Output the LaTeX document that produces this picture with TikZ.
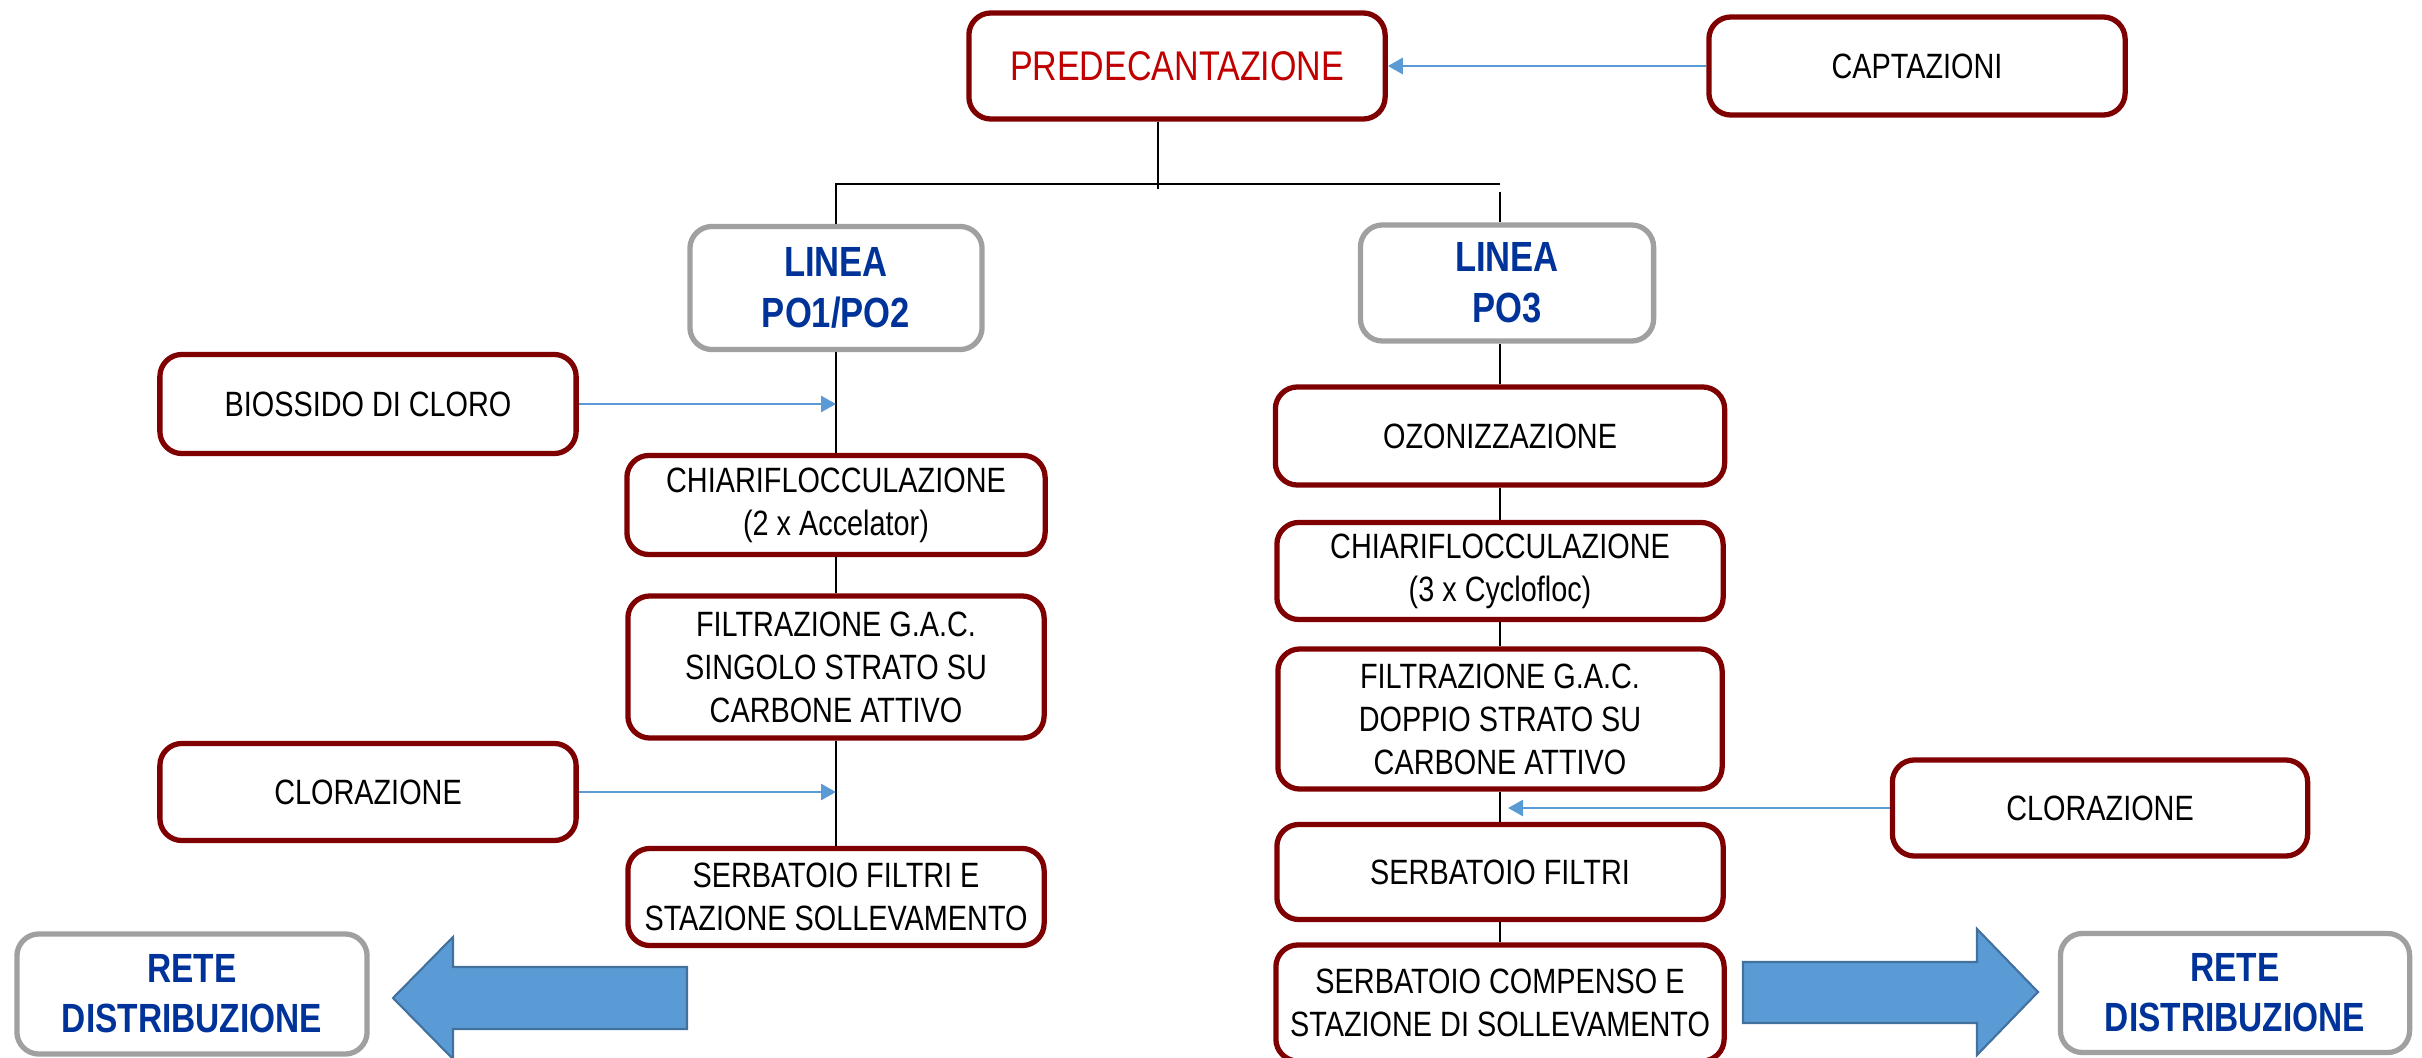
\documentclass[tikz,border=0pt]{standalone}
\usepackage{fontspec}
\setmainfont[FakeStretch=0.82]{Liberation Sans}
\usetikzlibrary{arrows.meta,calc}

\definecolor{boxred}{HTML}{7F0000}
\definecolor{boxgray}{HTML}{A0A0A0}
\definecolor{predred}{HTML}{C00000}
\definecolor{titleblue}{HTML}{003399}
\definecolor{flowblue}{HTML}{5B9BD5}
\definecolor{flowedge}{HTML}{41719C}

\begin{document}
\begin{tikzpicture}[x=0.01cm,y=-0.01cm,
  stage/.style={draw=boxred, line width=1.5pt, rounded corners=0.22cm, fill=white,
    align=center, inner sep=0pt, font=\fontsize{10}{12.2}\selectfont},
  linea/.style={stage, draw=boxgray, text=titleblue, font=\fontsize{12}{14.5}\selectfont\bfseries},
  rete/.style={linea, font=\fontsize{11.6}{14.2}\selectfont\bfseries},
  feed/.style={draw=flowblue, line width=0.8pt, -{Triangle[length=0.15cm,width=0.16cm]}},
  pipe/.style={draw=black, line width=0.5pt},
  bigarrow/.style={fill=flowblue, draw=flowedge, line width=0.6pt}]
\useasboundingbox (0,0) rectangle (2422,1058);

\node[stage, text=predred, font=\fontsize{11.8}{14}\selectfont, minimum width=4.16cm, minimum height=1.06cm] (pred) at (1177,66) {PREDECANTAZIONE};
\node[stage, minimum width=4.16cm, minimum height=0.98cm] (capt) at (1917,66) {CAPTAZIONI};
\draw[feed] (capt.west) -- (pred.east);

\node[linea, minimum width=2.92cm, minimum height=1.23cm] (l12) at (836,288) {LINEA\\PO1/PO2};
\node[linea, minimum width=2.93cm, minimum height=1.16cm] (l3) at (1507,283) {LINEA\\PO3};

\coordinate (split) at (1158,184);
\coordinate (splitr) at (1500,184);
\draw[pipe] (pred.south -| split) -- ($(split)+(0,5)$);
\draw[pipe] (l12.north) -- (l12.north |- split) -- (splitr);
\draw[pipe] ($(splitr)+(0,8)$) -- (l3.north -| splitr);

\node[stage, minimum width=4.16cm, minimum height=0.99cm] (bio) at (368,404) {BIOSSIDO DI CLORO};
\node[stage, minimum width=4.18cm, minimum height=0.99cm] (chi1) at (836,505) {CHIARIFLOCCULAZIONE\\(2 x Accelator)};
\node[stage, minimum width=4.16cm, minimum height=1.42cm] (fil1) at (836,667) {FILTRAZIONE G.A.C.\\SINGOLO STRATO SU\\CARBONE ATTIVO};
\node[stage, minimum width=4.16cm, minimum height=0.97cm] (clo1) at (368,792) {CLORAZIONE};
\node[stage, minimum width=4.16cm, minimum height=0.97cm] (ser1) at (836,897) {SERBATOIO FILTRI E\\STAZIONE SOLLEVAMENTO};
\node[rete, minimum width=3.5cm, minimum height=1.2cm] (rete1) at (192,994) {RETE\\DISTRIBUZIONE};

\draw[pipe] (l12.south) -- (chi1.north);
\draw[pipe] (chi1.south) -- (fil1.north);
\draw[pipe] (fil1.south) -- (ser1.north);
\draw[feed] (bio.east) -- (bio.east -| l12.south);
\draw[feed] (clo1.east) -- (clo1.east -| fil1.south);

\node[stage, minimum width=4.49cm, minimum height=0.98cm] (oz) at (1500,436) {OZONIZZAZIONE};
\node[stage, minimum width=4.46cm, minimum height=0.97cm] (chi3) at (1500,571) {CHIARIFLOCCULAZIONE\\(3 x Cyclofloc)};
\node[stage, minimum width=4.44cm, minimum height=1.40cm] (fil3) at (1500,719) {FILTRAZIONE G.A.C.\\DOPPIO STRATO SU\\CARBONE ATTIVO};
\node[stage, minimum width=4.15cm, minimum height=0.96cm] (clo3) at (2100,808) {CLORAZIONE};
\node[stage, minimum width=4.46cm, minimum height=0.95cm] (ser3) at (1500,872) {SERBATOIO FILTRI};
\node[stage, minimum width=4.48cm, minimum height=1.16cm] (comp) at (1500,1003) {SERBATOIO COMPENSO E\\STAZIONE DI SOLLEVAMENTO};
\node[rete, minimum width=3.49cm, minimum height=1.19cm] (rete3) at (2235,993) {RETE\\DISTRIBUZIONE};

\draw[pipe] (l3.south -| oz.north) -- (oz.north);
\draw[pipe] (oz.south) -- (chi3.north);
\draw[pipe] (chi3.south) -- (fil3.north);
\draw[pipe] (fil3.south) -- (ser3.north);
\draw[pipe] (ser3.south) -- (comp.north);
\draw[feed] (clo3.west) -- ($(clo3.west -| ser3.north)+(8,0)$);

\draw[bigarrow] (687,967) -- (453,967) -- (453,937) -- (393,998) -- (453,1059) -- (453,1029) -- (687,1029) -- cycle;
\draw[bigarrow] (1743,962) -- (1977,962) -- (1977,929) -- (2038,992) -- (1977,1055) -- (1977,1023) -- (1743,1023) -- cycle;
\end{tikzpicture}
\end{document}
